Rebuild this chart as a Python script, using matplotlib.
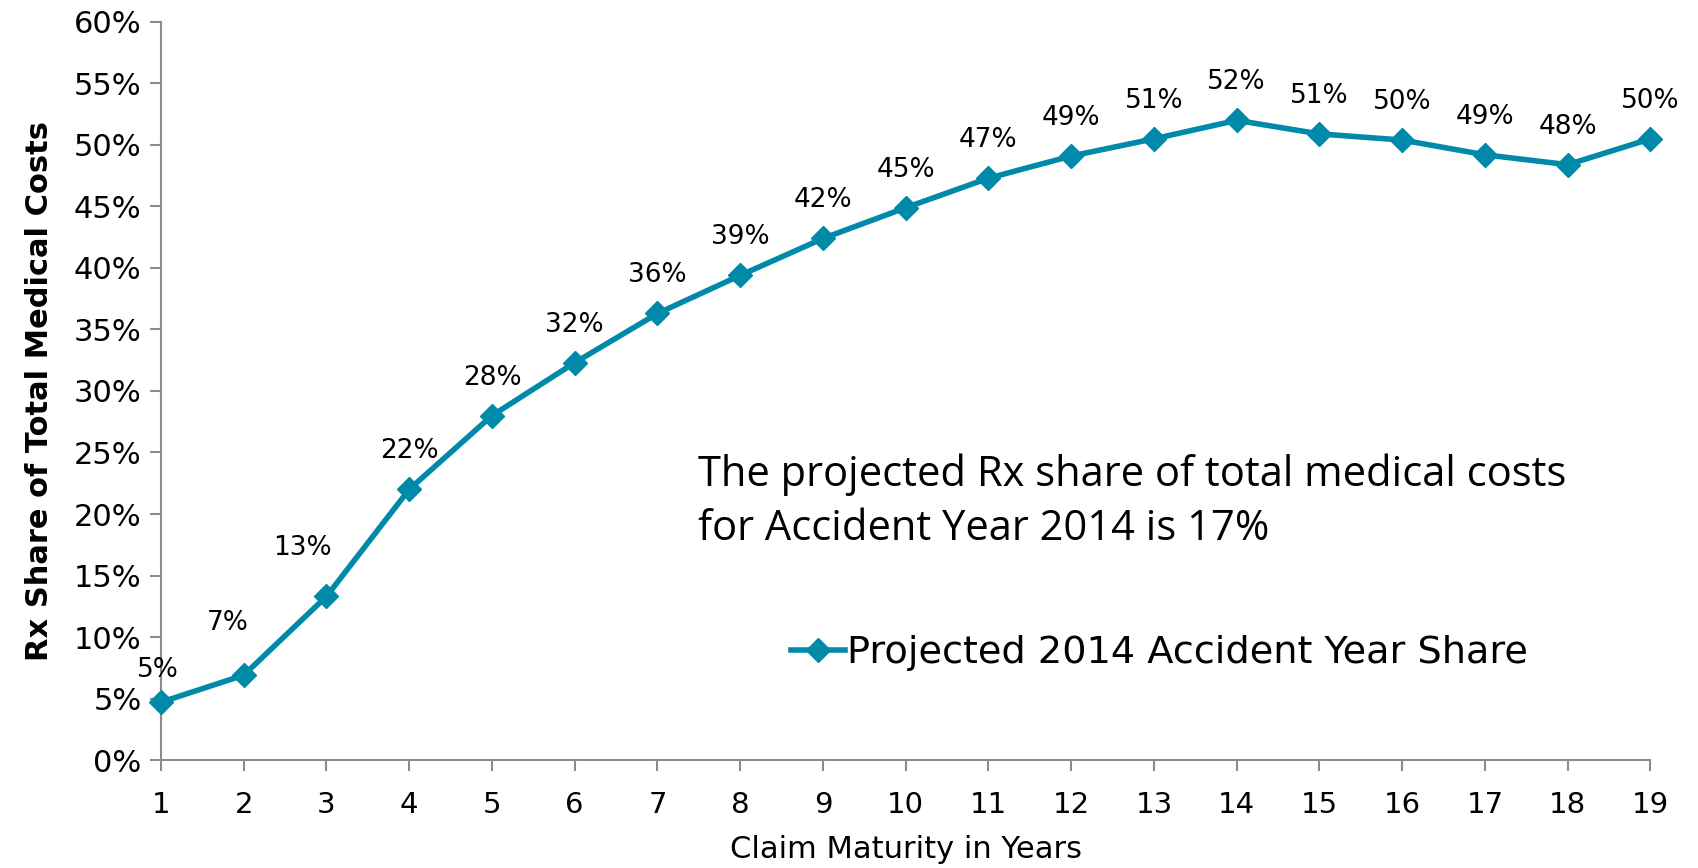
import matplotlib
matplotlib.use("Agg")
import matplotlib.pyplot as plt
from matplotlib.ticker import FuncFormatter

# claim maturity (years) and projected Rx share (%)
years = list(range(1, 20))
share = [4.7, 6.9, 13.3, 22.0, 28.0, 32.3, 36.3, 39.4, 42.4, 44.9,
         47.3, 49.1, 50.5, 52.0, 50.9, 50.4, 49.2, 48.4, 50.5]
labels = ["5%", "7%", "13%", "22%", "28%", "32%", "36%", "39%", "42%", "45%",
          "47%", "49%", "51%", "52%", "51%", "50%", "49%", "48%", "50%"]
y_ticks = list(range(0, 61, 5))

TEAL = "#0089A8"
AXIS_GREY = "#8C8C8C"

fig = plt.figure(figsize=(16.98, 8.68), dpi=100)
ax = fig.add_axes([0.0948, 0.1244, 0.8772, 0.8503])

ax.plot(years, share, color=TEAL, lw=4, marker="D", ms=12, mec=TEAL, mfc=TEAL,
        label="Projected 2014 Accident Year Share", clip_on=False, zorder=3)

# data labels sit above each point; the first few are nudged left like the original
for i, (x, y, txt) in enumerate(zip(years, share, labels)):
    dx, dy = {0: (-3, 32), 1: (-16, 52), 2: (-24, 48)}.get(i, (0, 38))
    ax.annotate(txt, (x, y), xytext=(dx, dy), textcoords="offset pixels",
                ha="center", va="center", fontsize=19)

ax.set_xlim(1, 19)
ax.set_ylim(0, 60)
ax.set_xticks(years)
ax.set_yticks(y_ticks)
ax.yaxis.set_major_formatter(FuncFormatter(lambda v, _: f"{v:.0f}%"))
ax.tick_params(axis="both", labelsize=21, color=AXIS_GREY, width=1.5, length=8,
               direction="out")
ax.tick_params(axis="y", labelsize=22, pad=6)
ax.tick_params(axis="x", pad=14)
for side in ("top", "right"):
    ax.spines[side].set_visible(False)
for side in ("left", "bottom"):
    ax.spines[side].set_color(AXIS_GREY)
    ax.spines[side].set_linewidth(1.5)

ax.set_ylabel("Rx Share of Total Medical Costs", fontsize=22, fontweight="bold",
              labelpad=14)
ax.set_xlabel("Claim Maturity in Years", fontsize=22, labelpad=12)

ax.text(0.3605, 0.35, "The projected Rx share of total medical costs\nfor Accident Year 2014 is 17%",
        transform=ax.transAxes, fontsize=30, family="Open Sans", linespacing=1.36,
        va="center", ha="left")

leg = ax.legend(loc="center left", bbox_to_anchor=(0.413, 0.145), frameon=False,
                handlelength=1.4, handletextpad=0.05, borderaxespad=0,
                prop={"family": ["Liberation Sans Narrow", "DejaVu Sans"], "size": 27.5})

fig.savefig("out.png", dpi=100)
